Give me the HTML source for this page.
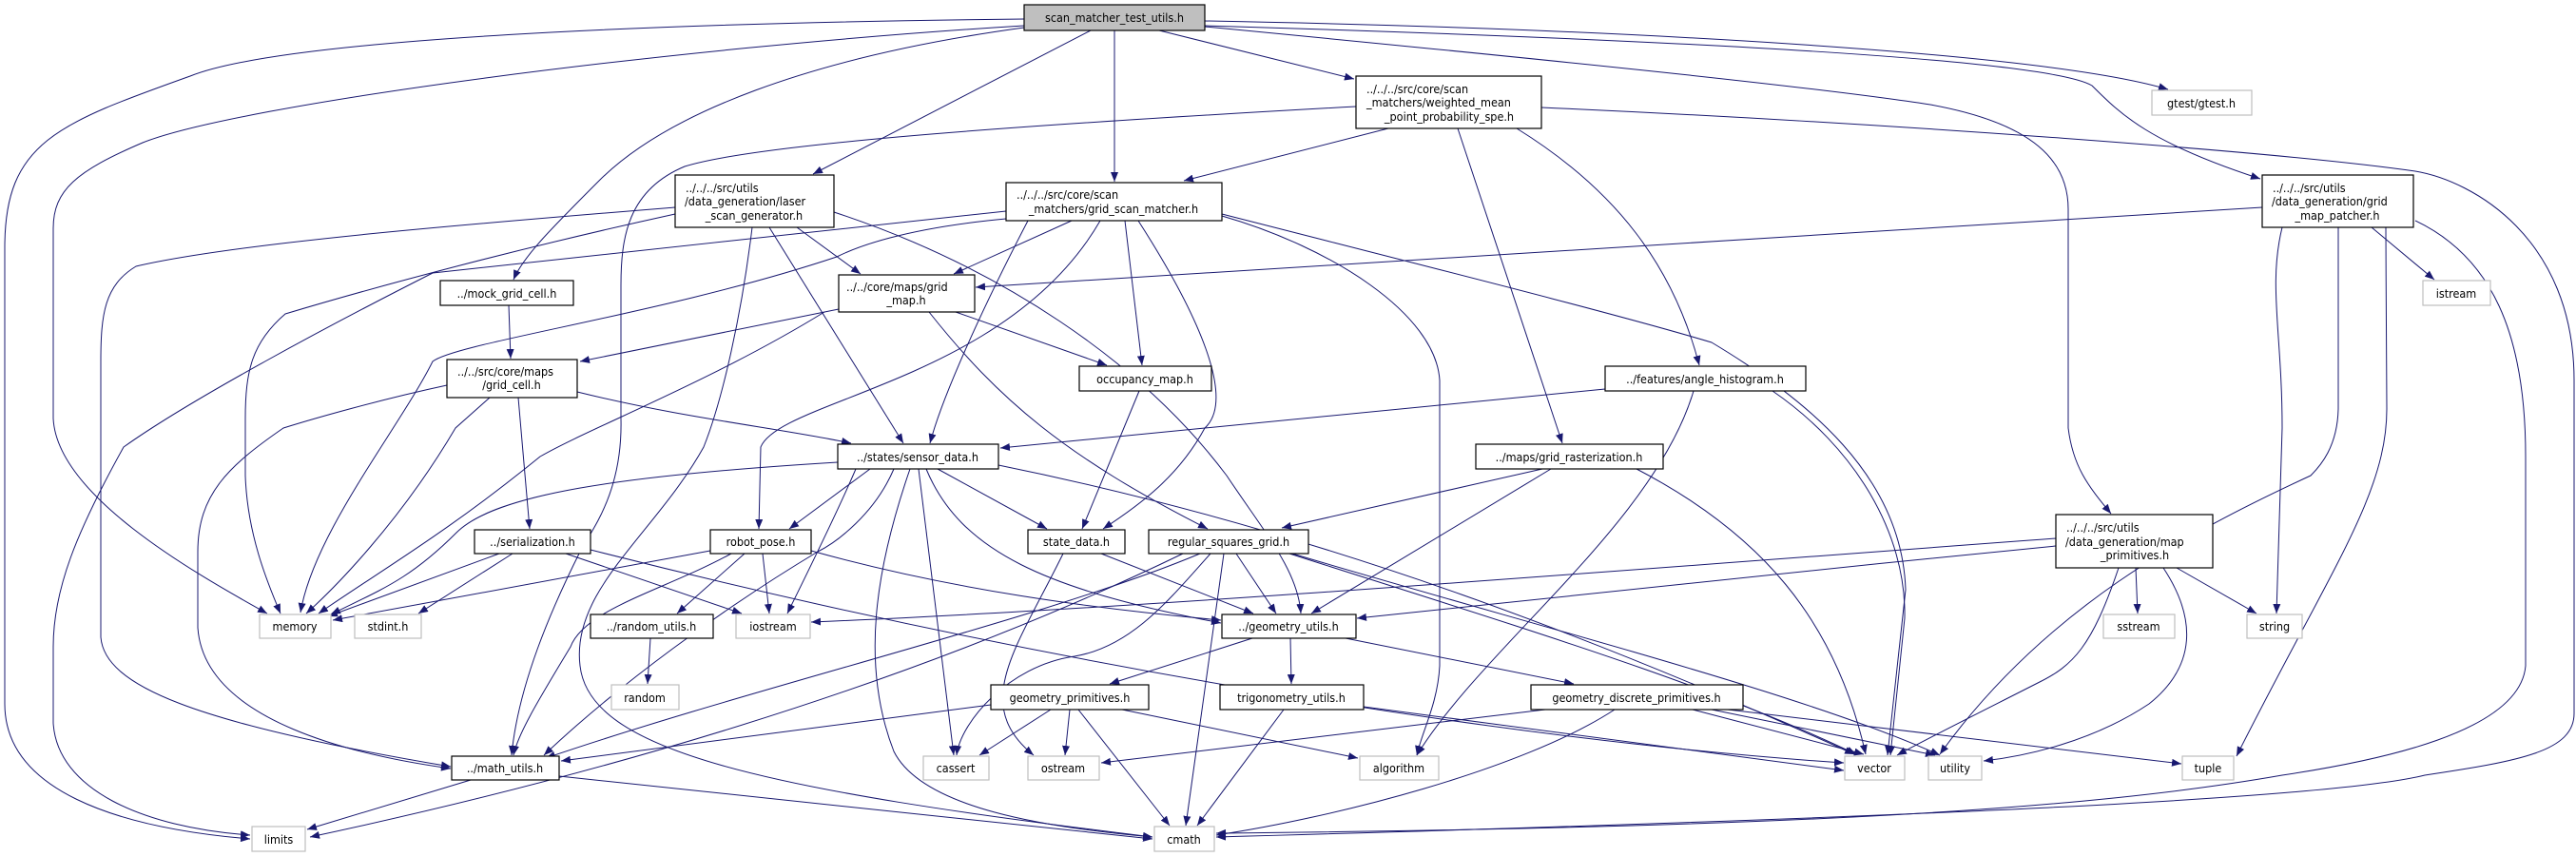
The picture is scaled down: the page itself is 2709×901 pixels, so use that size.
<!DOCTYPE html>
<html><head><meta charset="utf-8"><style>
html,body{margin:0;padding:0;background:#fff;}
svg{display:block;}
text{font-family:"DejaVu Sans Condensed","DejaVu Sans","Liberation Sans",sans-serif;font-size:12.5px;fill:#000;}
.n{fill:#fff;stroke:#000;stroke-width:1.2;}
.g{fill:#fff;stroke:#bfbfbf;stroke-width:1.2;}
.e{fill:none;stroke:#191970;stroke-width:1;marker-end:url(#a);}
</style></head><body>
<svg width="2709" height="901" viewBox="0 0 2709 901" xmlns="http://www.w3.org/2000/svg">
<defs><marker id="a" markerUnits="userSpaceOnUse" markerWidth="11" markerHeight="8" refX="10" refY="4" orient="auto"><path d="M0,0 L10,4 L0,8 z" fill="#191970"/></marker></defs>
<g>
<path class="e" d="M1077,20 C700,24 300,40 200,80 C60,130 5,150 5,260 L5,740 C5,830 120,870 263,882"/>
<path class="e" d="M1077,27 C700,50 250,110 150,150 C80,180 56,200 56,240 L56,440 C60,520 200,600 281,645"/>
<path class="e" d="M1077,29 C850,60 700,120 630,190 C580,240 550,270 540,294"/>
<path class="e" d="M1147,32 L855,183"/>
<path class="e" d="M1172,32 L1172,191"/>
<path class="e" d="M1219,32 L1424,83"/>
<path class="e" d="M1267,22 C1700,30 2150,55 2280,94"/>
<path class="e" d="M1267,27 C1700,40 2150,60 2200,90 C2230,120 2260,150 2377,188"/>
<path class="e" d="M1267,28 C1600,60 1900,90 2030,110 C2140,130 2175,170 2175,220 L2175,450 C2180,490 2195,510 2220,540"/>
<path class="e" d="M1460,135 L1245,190"/>
<path class="e" d="M1426,112 C1100,130 800,150 720,175 C660,200 653,250 653,300 L653,440 C655,520 620,560 610,580 C580,640 545,720 538,794"/>
<path class="e" d="M1533,135 L1643,466"/>
<path class="e" d="M1595,135 C1700,200 1760,280 1787,384"/>
<path class="e" d="M1621,113 C2000,130 2400,160 2540,180 C2600,190 2707,250 2707,400 L2707,750 C2707,790 2650,800 2550,815 C2450,840 2000,860 1279,880"/>
<path class="e" d="M710,218 C500,235 250,255 143,280 C110,300 106,330 106,380 L106,670 C110,720 200,760 474,806"/>
<path class="e" d="M710,225 C550,260 400,300 300,330 C265,360 258,390 258,440 L258,500 C260,560 280,610 295,645"/>
<path class="e" d="M838,239 L905,288"/>
<path class="e" d="M809,239 L950,466"/>
<path class="e" d="M791,239 C780,330 760,420 740,470 C690,560 600,620 610,700 C620,790 800,830 1212,880"/>
<path class="e" d="M877,223 C1050,280 1200,380 1290,500 C1330,560 1365,600 1368,645"/>
<path class="e" d="M1058,222 C800,250 600,270 455,287 C350,340 200,420 130,470 C80,560 56,620 56,680 L56,760 C60,830 150,870 263,878"/>
<path class="e" d="M1058,230 C950,240 900,260 880,270 C700,330 480,360 455,380 C420,450 330,560 316,644"/>
<path class="e" d="M1127,232 L1003,288"/>
<path class="e" d="M1157,232 C1060,400 820,420 800,470 L798,556"/>
<path class="e" d="M1183,232 L1201,384"/>
<path class="e" d="M1197,232 C1260,330 1300,420 1267,450 C1240,500 1200,530 1160,556"/>
<path class="e" d="M1285,227 C1400,260 1510,330 1514,400 L1514,700 C1512,740 1495,770 1490,794"/>
<path class="e" d="M1285,225 C1500,280 1700,330 1800,360 C1900,420 2000,500 2004,620 L1985,794"/>
<path class="e" d="M1081,232 C1030,330 990,420 978,466"/>
<path class="e" d="M535,321 L537,377"/>
<path class="e" d="M515,418 L479,450 C420,550 350,620 322,645"/>
<path class="e" d="M545,418 L557,556"/>
<path class="e" d="M470,405 C400,420 330,440 298,450 C240,490 208,520 208,580 L208,660 C215,760 380,795 474,808"/>
<path class="e" d="M607,412 C720,440 820,450 895,466"/>
<path class="e" d="M882,325 L610,380"/>
<path class="e" d="M867,328 C750,400 620,450 568,480 C470,560 400,600 335,645"/>
<path class="e" d="M1005,328 L1164,384"/>
<path class="e" d="M977,328 C1050,420 1120,480 1270,556"/>
<path class="e" d="M881,486 C650,500 520,520 480,560 C430,610 400,620 348,646"/>
<path class="e" d="M915,493 L830,556"/>
<path class="e" d="M900,493 C880,540 850,600 828,645"/>
<path class="e" d="M986,493 L1101,556"/>
<path class="e" d="M974,493 C1010,580 1100,620 1284,655"/>
<path class="e" d="M966,493 L1003,794"/>
<path class="e" d="M957,493 C920,600 905,700 940,790 C970,850 1100,870 1212,880"/>
<path class="e" d="M1050,489 C1400,560 1700,680 1950,793"/>
<path class="e" d="M940,493 C920,540 880,570 860,580 C760,640 650,720 572,794"/>
<path class="e" d="M747,579 L350,652"/>
<path class="e" d="M783,582 L712,645"/>
<path class="e" d="M802,582 L809,645"/>
<path class="e" d="M769,582 C700,620 615,640 600,680 C570,730 545,770 540,794"/>
<path class="e" d="M853,579 C1000,620 1150,640 1284,652"/>
<path class="e" d="M525,582 L345,648"/>
<path class="e" d="M539,582 L440,645"/>
<path class="e" d="M595,582 L780,645"/>
<path class="e" d="M621,578 C1100,700 1600,780 1939,802"/>
<path class="e" d="M684,671 L681,719"/>
<path class="e" d="M495,820 L323,872"/>
<path class="e" d="M588,816 L1212,882"/>
<path class="e" d="M1158,582 L1318,645"/>
<path class="e" d="M1118,582 C1070,680 1020,740 1087,794"/>
<path class="e" d="M1198,411 L1138,556"/>
<path class="e" d="M1300,582 L1342,645"/>
<path class="e" d="M1287,582 L1247,868"/>
<path class="e" d="M1273,582 C1230,630 1190,680 1130,690 C1060,700 1010,760 1006,794"/>
<path class="e" d="M1262,582 C1100,650 800,720 574,797"/>
<path class="e" d="M1244,582 C1000,700 700,800 326,880"/>
<path class="e" d="M1356,582 C1600,660 1800,720 1952,793"/>
<path class="e" d="M1359,582 C1620,660 1900,730 2040,794"/>
<path class="e" d="M1622,493 L1348,555"/>
<path class="e" d="M1631,493 L1379,645"/>
<path class="e" d="M1721,493 C1850,560 1930,650 1962,793"/>
<path class="e" d="M1688,409 L1052,471"/>
<path class="e" d="M1781,411 C1740,550 1560,680 1490,794"/>
<path class="e" d="M1864,411 C1950,470 2005,560 2003,650 L1988,794"/>
<path class="e" d="M1317,671 L1167,719"/>
<path class="e" d="M1357,671 L1358,719"/>
<path class="e" d="M1415,671 L1655,719"/>
<path class="e" d="M1105,746 L1030,794"/>
<path class="e" d="M1125,746 L1120,794"/>
<path class="e" d="M1134,746 L1230,868"/>
<path class="e" d="M1180,746 L1428,797"/>
<path class="e" d="M1042,741 L590,800"/>
<path class="e" d="M1350,746 L1259,868"/>
<path class="e" d="M1434,743 L1939,810"/>
<path class="e" d="M1625,746 L1158,802"/>
<path class="e" d="M1698,746 C1600,810 1400,860 1279,878"/>
<path class="e" d="M1780,746 L1960,793"/>
<path class="e" d="M1800,746 L2035,794"/>
<path class="e" d="M1817,746 L2294,803"/>
<path class="e" d="M2162,566 C1700,600 1200,640 853,654"/>
<path class="e" d="M2162,574 C1900,600 1600,630 1427,650"/>
<path class="e" d="M2228,597 C2200,680 2180,700 2143,718 C2080,750 2020,780 1995,794"/>
<path class="e" d="M2246,597 L2248,645"/>
<path class="e" d="M2289,597 L2373,645"/>
<path class="e" d="M2275,597 C2310,650 2310,700 2260,740 C2200,780 2130,795 2086,800"/>
<path class="e" d="M2379,218 L1026,302"/>
<path class="e" d="M2400,239 C2385,300 2400,350 2400,450 L2394,645"/>
<path class="e" d="M2459,239 L2459,430 C2458,470 2440,490 2430,500 C2300,560 2150,640 2040,793"/>
<path class="e" d="M2509,239 C2509,300 2510,340 2510,430 C2510,520 2450,600 2352,795"/>
<path class="e" d="M2494,239 L2560,294"/>
<path class="e" d="M2540,232 C2620,270 2656,350 2656,480 L2656,700 C2650,770 2500,800 2400,815 C2200,850 1900,870 1279,876"/>
</g>
<g>
<rect x="1077" y="5" width="190" height="27" fill="#bfbfbf" stroke="#000" stroke-width="1.2"/><text x="1172" y="23" text-anchor="middle">scan_matcher_test_utils.h</text>
<rect class="n" x="710" y="184" width="167" height="55"/><text x="721" y="202">../../../src/utils</text><text x="720" y="216">/data_generation/laser</text><text x="793" y="231" text-anchor="middle">_scan_generator.h</text>
<rect class="n" x="463" y="295" width="140" height="26"/><text x="533" y="313" text-anchor="middle">../mock_grid_cell.h</text>
<rect class="n" x="470" y="378" width="137" height="40"/><text x="481" y="395">../../src/core/maps</text><text x="538" y="409" text-anchor="middle">/grid_cell.h</text>
<rect class="n" x="882" y="289" width="143" height="39"/><text x="890" y="306">../../core/maps/grid</text><text x="953" y="320" text-anchor="middle">_map.h</text>
<rect class="n" x="1426" y="80" width="195" height="55"/><text x="1437" y="98">../../../src/core/scan</text><text x="1437" y="112">_matchers/weighted_mean</text><text x="1524" y="127" text-anchor="middle">_point_probability_spe.h</text>
<rect class="n" x="1058" y="192" width="227" height="40"/><text x="1069" y="209">../../../src/core/scan</text><text x="1171" y="224" text-anchor="middle">_matchers/grid_scan_matcher.h</text>
<rect class="n" x="1135" y="385" width="139" height="26"/><text x="1204" y="403" text-anchor="middle">occupancy_map.h</text>
<rect class="n" x="1688" y="385" width="211" height="26"/><text x="1793" y="403" text-anchor="middle">../features/angle_histogram.h</text>
<rect class="g" x="2263" y="95" width="105" height="26"/><text x="2315" y="113" text-anchor="middle">gtest/gtest.h</text>
<rect class="n" x="2379" y="184" width="159" height="55"/><text x="2390" y="202">../../../src/utils</text><text x="2389" y="216">/data_generation/grid</text><text x="2458" y="231" text-anchor="middle">_map_patcher.h</text>
<rect class="g" x="2548" y="295" width="71" height="26"/><text x="2583" y="313" text-anchor="middle">istream</text>
<rect class="n" x="499" y="557" width="122" height="25"/><text x="560" y="574" text-anchor="middle">../serialization.h</text>
<rect class="n" x="747" y="557" width="106" height="25"/><text x="800" y="574" text-anchor="middle">robot_pose.h</text>
<rect class="g" x="273" y="646" width="75" height="25"/><text x="310" y="663" text-anchor="middle">memory</text>
<rect class="g" x="373" y="646" width="70" height="25"/><text x="408" y="663" text-anchor="middle">stdint.h</text>
<rect class="n" x="621" y="646" width="129" height="25"/><text x="685" y="663" text-anchor="middle">../random_utils.h</text>
<rect class="g" x="774" y="646" width="78" height="25"/><text x="813" y="663" text-anchor="middle">iostream</text>
<rect class="g" x="643" y="720" width="71" height="26"/><text x="678" y="738" text-anchor="middle">random</text>
<rect class="n" x="475" y="795" width="113" height="25"/><text x="531" y="812" text-anchor="middle">../math_utils.h</text>
<rect class="g" x="265" y="869" width="56" height="26"/><text x="293" y="887" text-anchor="middle">limits</text>
<rect class="n" x="881" y="467" width="169" height="26"/><text x="965" y="485" text-anchor="middle">../states/sensor_data.h</text>
<rect class="n" x="1552" y="467" width="197" height="26"/><text x="1650" y="485" text-anchor="middle">../maps/grid_rasterization.h</text>
<rect class="n" x="1081" y="557" width="102" height="25"/><text x="1132" y="574" text-anchor="middle">state_data.h</text>
<rect class="n" x="1208" y="557" width="168" height="25"/><text x="1292" y="574" text-anchor="middle">regular_squares_grid.h</text>
<rect class="n" x="1285" y="646" width="141" height="25"/><text x="1355" y="663" text-anchor="middle">../geometry_utils.h</text>
<rect class="n" x="1042" y="720" width="166" height="26"/><text x="1125" y="738" text-anchor="middle">geometry_primitives.h</text>
<rect class="n" x="1283" y="720" width="151" height="26"/><text x="1358" y="738" text-anchor="middle">trigonometry_utils.h</text>
<rect class="n" x="1610" y="720" width="223" height="26"/><text x="1721" y="738" text-anchor="middle">geometry_discrete_primitives.h</text>
<rect class="g" x="971" y="795" width="69" height="25"/><text x="1005" y="812" text-anchor="middle">cassert</text>
<rect class="g" x="1081" y="795" width="75" height="25"/><text x="1118" y="812" text-anchor="middle">ostream</text>
<rect class="g" x="1430" y="795" width="83" height="25"/><text x="1471" y="812" text-anchor="middle">algorithm</text>
<rect class="g" x="1214" y="869" width="63" height="26"/><text x="1245" y="887" text-anchor="middle">cmath</text>
<rect class="n" x="2162" y="541" width="165" height="56"/><text x="2173" y="559">../../../src/utils</text><text x="2172" y="574">/data_generation/map</text><text x="2245" y="588" text-anchor="middle">_primitives.h</text>
<rect class="g" x="2212" y="646" width="75" height="25"/><text x="2249" y="663" text-anchor="middle">sstream</text>
<rect class="g" x="2363" y="646" width="58" height="25"/><text x="2392" y="663" text-anchor="middle">string</text>
<rect class="g" x="1940" y="795" width="63" height="25"/><text x="1971" y="812" text-anchor="middle">vector</text>
<rect class="g" x="2028" y="795" width="56" height="25"/><text x="2056" y="812" text-anchor="middle">utility</text>
<rect class="g" x="2295" y="795" width="54" height="25"/><text x="2322" y="812" text-anchor="middle">tuple</text>
</g>
</svg>
</body></html>
